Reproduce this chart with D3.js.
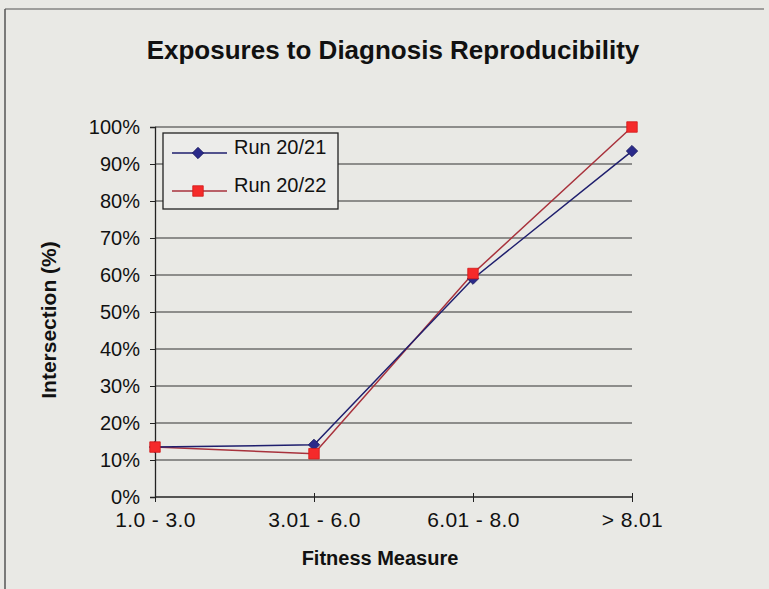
<!DOCTYPE html>
<html><head><meta charset="utf-8">
<script src="https://cdn.jsdelivr.net/npm/d3@7"></script>
<style>html,body{margin:0;padding:0;background:#e9e9e5;}svg{display:block;}</style>
</head><body>
<script>
const categories = ["1.0 - 3.0", "3.01 - 6.0", "6.01 - 8.0", "> 8.01"];
const run2021 = [0.135, 0.141, 0.59, 0.935];
const run2022 = [0.135, 0.117, 0.604, 1.0];
const yTicks = [0, 0.1, 0.2, 0.3, 0.4, 0.5, 0.6, 0.7, 0.8, 0.9, 1.0];
const seriesNames = ["Run 20/21", "Run 20/22"];

const W = 769, H = 589;
const svg = d3.select("body").append("svg").attr("width", W).attr("height", H);
svg.append("rect").attr("width", W).attr("height", H).attr("fill", "#e9e9e5");

// outer chart border (left and top visible)
svg.append("line").attr("x1", 5).attr("y1", 9).attr("x2", 5).attr("y2", H).attr("stroke", "#555").attr("stroke-width", 1.5);
svg.append("line").attr("x1", 5).attr("y1", 9).attr("x2", 764).attr("y2", 9).attr("stroke", "#555").attr("stroke-width", 1.2);

const x = d3.scalePoint().domain(categories).range([155, 632]);
const y = d3.scaleLinear().domain([0, 1]).range([497, 127]);

const font = "'Liberation Sans', Arial, sans-serif";

// gridlines
svg.append("g").selectAll("line").data(yTicks.filter(d => d > 0)).join("line")
  .attr("x1", 155).attr("x2", 632)
  .attr("y1", d => y(d)).attr("y2", d => y(d))
  .attr("stroke", "#333").attr("stroke-width", 1.2);

// y axis
const yAxis = d3.axisLeft(y).tickValues(yTicks).tickFormat(d3.format(".0%")).tickSize(5).tickPadding(10);
const gy = svg.append("g").attr("transform", "translate(155,0)").call(yAxis);
gy.select(".domain").attr("stroke", "#222").attr("stroke-width", 1.3);
gy.selectAll(".tick line").attr("stroke", "#222");
gy.selectAll("text").attr("font-family", font).attr("font-size", 20).attr("fill", "#111");

// x axis
const xAxis = d3.axisBottom(x).tickSize(5).tickPadding(10);
const gx = svg.append("g").attr("transform", "translate(0,497)").call(xAxis);
gx.select(".domain").attr("stroke", "#222").attr("stroke-width", 1.3).attr("d", "M155,0H632");
gx.selectAll(".tick line").attr("stroke", "#222").attr("y1", -4);
gx.selectAll("text").attr("font-family", font).attr("font-size", 21).attr("fill", "#111").attr("letter-spacing", 0.4);

// lines
const line = d3.line().x((d, i) => x(categories[i])).y(d => y(d));
svg.append("path").datum(run2022).attr("d", line).attr("fill", "none").attr("stroke", "#a8323c").attr("stroke-width", 1.5);
svg.append("path").datum(run2021).attr("d", line).attr("fill", "none").attr("stroke", "#1f1f6e").attr("stroke-width", 1.5);

const square = d3.symbol().type(d3.symbolSquare).size(110);
const diamond = d3.symbol().type(d3.symbolSquare).size(64);

svg.append("g").selectAll("path").data(run2021).join("path")
  .attr("d", diamond)
  .attr("transform", (d, i) => `translate(${x(categories[i])},${y(d)}) rotate(45)`)
  .attr("fill", "#2a2a8a").attr("stroke", "#1a1a60").attr("stroke-width", 0.8);
svg.append("g").selectAll("path").data(run2022).join("path")
  .attr("d", square)
  .attr("transform", (d, i) => `translate(${x(categories[i])},${y(d)})`)
  .attr("fill", "#f52a2a").attr("stroke", "#d01818").attr("stroke-width", 0.8);

// legend
const lg = svg.append("g");
lg.append("rect").attr("x", 163).attr("y", 133).attr("width", 175).attr("height", 76)
  .attr("fill", "#ececea").attr("stroke", "#222").attr("stroke-width", 1.3);
const legendRows = [
  {name: seriesNames[0], color: "#1f1f6e", mk: "diamond", y: 153},
  {name: seriesNames[1], color: "#a8323c", mk: "square", y: 191}
];
legendRows.forEach(r => {
  lg.append("line").attr("x1", 172).attr("x2", 227).attr("y1", r.y).attr("y2", r.y).attr("stroke", r.color).attr("stroke-width", 1.5);
  if (r.mk === "diamond") {
    lg.append("path").attr("d", diamond)
      .attr("transform", `translate(198,${r.y}) rotate(45)`).attr("fill", "#2a2a8a").attr("stroke", "#1a1a60").attr("stroke-width", 0.8);
  } else {
    lg.append("path").attr("d", square).attr("transform", `translate(198,${r.y})`).attr("fill", "#f52a2a").attr("stroke", "#d01818").attr("stroke-width", 0.8);
  }
  lg.append("text").attr("x", 234).attr("y", r.y + 1).text(r.name)
    .attr("font-family", font).attr("font-size", 20).attr("fill", "#111");
});

// title
svg.append("text").attr("x", 393).attr("y", 59).attr("text-anchor", "middle")
  .attr("font-family", font).attr("font-weight", "bold").attr("font-size", 26).attr("fill", "#111")
  .text("Exposures to Diagnosis Reproducibility");

// axis titles
svg.append("text").attr("x", 380).attr("y", 565).attr("text-anchor", "middle")
  .attr("font-family", font).attr("font-weight", "bold").attr("font-size", 20).attr("fill", "#111")
  .text("Fitness Measure");
svg.append("text").attr("transform", "translate(56,320) rotate(-90)").attr("text-anchor", "middle")
  .attr("font-family", font).attr("font-weight", "bold").attr("font-size", 21).attr("fill", "#111")
  .text("Intersection (%)");
</script>
</body></html>
